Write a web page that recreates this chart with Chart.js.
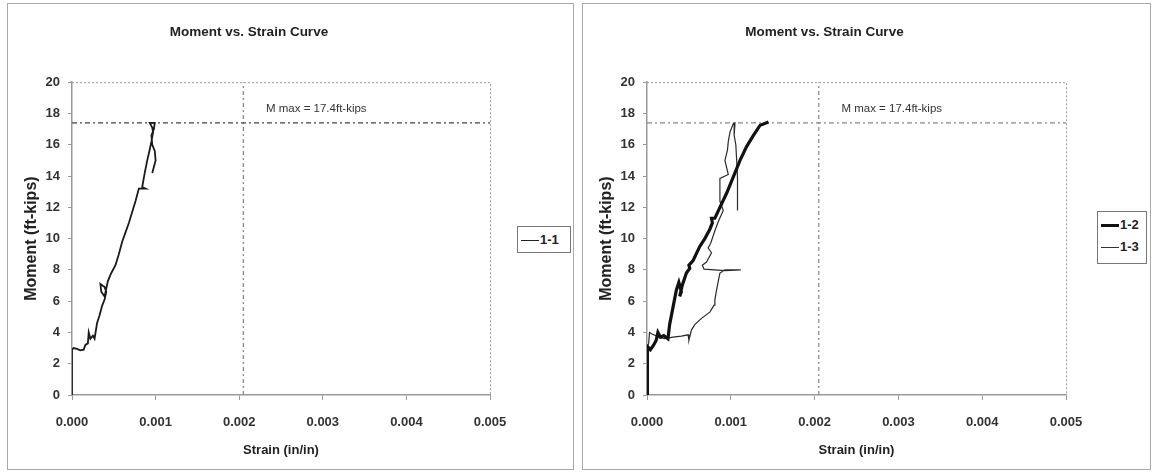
<!DOCTYPE html>
<html>
<head>
<meta charset="utf-8">
<script src="https://cdn.jsdelivr.net/npm/chart.js@4.4.1/dist/chart.umd.min.js"></script>
<style>
    body { margin: 0; background: #fff; width: 1152px; height: 475px; position: relative; overflow: hidden; }
    .panel { position: absolute; top: 3px; height: 467px; border: 1px solid #aaa; box-sizing: border-box; }
    .panel canvas { position: absolute; left: 0; top: 0; }
    .legend { position: absolute; border: 1px solid #777; background: #fff; box-sizing: border-box;
        font: bold 13px "Liberation Sans", Arial, sans-serif; color: #222; padding: 2px 3px; }
    .legend div { height: 22px; line-height: 22px; white-space: nowrap; }
    .legend span.ln { display: inline-block; width: 18px; vertical-align: middle; margin-right: 1px; }
</style>
</head>
<body>
<div class="panel" id="panelLeft" style="left:7px; width:567px;">
    <canvas id="chartLeft"></canvas>
    <div class="legend" style="left:509px; top:222px; width:54px; height:27px;">
        <div><span class="ln" style="border-top:1.5px solid #222;"></span>1-1</div>
    </div>
</div>
<div class="panel" id="panelRight" style="left:582px; width:569px;">
    <canvas id="chartRight"></canvas>
    <div class="legend" style="left:514px; top:207px; width:50px; height:53px;">
        <div><span class="ln" style="border-top:3.5px solid #111;"></span>1-2</div>
        <div><span class="ln" style="border-top:1.3px solid #333;"></span>1-3</div>
    </div>
</div>

<script>
// 座標軸刻度
const strainTicks = [0, 0.001, 0.002, 0.003, 0.004, 0.005];
const momentTicks = [0, 2, 4, 6, 8, 10, 12, 14, 16, 18, 20];

// 參考線：最大彎矩與對應應變
const mMax = 17.4;
const strainRef = 0.00205;
const mMaxLabel = 'M max = 17.4ft-kips';

// 試體 1-1
const strain11 = [0, 0, 0, 0.00002, 0.00006, 0.0001, 0.00014, 0.00016, 0.00019, 0.0002,
    0.00022, 0.00025, 0.00027, 0.0003, 0.00033, 0.00036, 0.00039, 0.00041, 0.00039, 0.00034,
    0.00035, 0.00039, 0.00041, 0.00043, 0.00047, 0.00052, 0.00056, 0.0006, 0.00064, 0.00068,
    0.00072, 0.00076, 0.0008, 0.00088, 0.00084, 0.00087, 0.0009, 0.00093, 0.00095, 0.00097,
    0.00096, 0.00093, 0.00099, 0.00098, 0.00095, 0.00096, 0.00099, 0.001, 0.00098, 0.00096];
const moment11 = [0, 1.5, 2.9, 3.0, 2.95, 2.85, 2.9, 3.2, 3.3, 4.0,
    3.6, 3.8, 3.6, 4.6, 5.1, 5.7, 6.1, 6.6, 6.9, 7.1,
    6.6, 6.3, 6.8, 7.3, 7.8, 8.3, 9.0, 9.8, 10.4, 11.0,
    11.7, 12.4, 13.2, 13.2, 13.3, 14.2, 15.0, 15.7, 16.2, 16.8,
    17.1, 17.4, 17.4, 17.0, 16.6, 16.0, 15.6, 15.0, 14.6, 14.2];

// 試體 1-2
const strain12 = [0, 0, 0.00001, 0.00004, 0.00008, 0.00011, 0.00013, 0.00016, 0.0002, 0.00025,
    0.00027, 0.00031, 0.00035, 0.00038, 0.00041, 0.00039, 0.00042, 0.00047, 0.00051, 0.0005,
    0.00055, 0.00063, 0.00069, 0.00075, 0.00078, 0.00077, 0.00081, 0.00087, 0.00095, 0.00103,
    0.00111, 0.00119, 0.00127, 0.00135, 0.00145];
const moment12 = [0, 2.9, 3.1, 2.9, 3.2, 3.5, 4.0, 3.7, 3.8, 3.6,
    4.5, 5.6, 6.7, 7.2, 6.6, 6.3, 7.0, 7.8, 8.1, 8.3,
    8.6, 9.5, 10.0, 10.6, 11.0, 11.3, 11.3, 12.0, 12.9, 13.95,
    15.0, 15.9, 16.6, 17.25, 17.45];

// 試體 1-3
const strain13 = [0, 0, 0.00002, 0.00003, 0.00006, 0.0001, 0.00014, 0.00021, 0.00031, 0.00041,
    0.00049, 0.0005, 0.00053, 0.00057, 0.00065, 0.00075, 0.0008, 0.00081, 0.00084, 0.00087,
    0.00093, 0.00112, 0.00093, 0.00068, 0.00066, 0.00071, 0.00077, 0.00073, 0.00076, 0.00081,
    0.00086, 0.00091, 0.00087, 0.00087, 0.00097, 0.00093, 0.00096, 0.00097, 0.00099, 0.00103,
    0.00105, 0.00104, 0.00106, 0.00107, 0.00108, 0.00108];
const moment13 = [0, 3.0, 3.3, 4.0, 3.9, 3.8, 3.7, 3.6, 3.7, 3.77,
    3.85, 3.5, 4.15, 4.5, 4.9, 5.3, 5.75, 6.1, 7.0, 7.8,
    8.0, 8.0, 7.95, 8.05, 8.3, 8.5, 9.1, 9.4, 9.7, 10.5,
    11.2, 11.8, 12.4, 13.85, 14.1, 15.0, 15.65, 16.2, 16.8, 17.35,
    17.4, 16.6, 16.0, 15.0, 13.9, 11.8];

const FONT = '"Liberation Sans", Arial, sans-serif';

function toPoints(xs, ys) {
    return xs.map((x, i) => ({ x: x, y: ys[i] }));
}

// 參考線資料集
function refLines(hColor) {
    const xMin = strainTicks[0], xMax = strainTicks[strainTicks.length - 1];
    const yMin = momentTicks[0], yMax = momentTicks[momentTicks.length - 1];
    return [
        {
            label: 'mmax', data: [{ x: xMin, y: mMax }, { x: xMax, y: mMax }],
            borderColor: hColor, borderWidth: 1.3, borderDash: [5, 3, 2, 3],
            pointRadius: 0, order: 10
        },
        {
            label: 'strainref', data: [{ x: strainRef, y: yMin }, { x: strainRef, y: yMax }],
            borderColor: '#8a8a8a', borderWidth: 1.3, borderDash: [4, 3, 2, 3],
            pointRadius: 0, order: 10
        }
    ];
}

// 繪圖區上、右虛線框與標註文字
const framePlugin = {
    id: 'frameAndLabel',
    beforeDatasetsDraw(chart) {
        const { ctx, chartArea: a } = chart;
        ctx.save();
        ctx.strokeStyle = '#9a9a9a';
        ctx.lineWidth = 1;
        ctx.setLineDash([2, 2]);
        ctx.beginPath();
        ctx.moveTo(a.left, a.top + 0.5);
        ctx.lineTo(a.right + 0.5, a.top + 0.5);
        ctx.lineTo(a.right + 0.5, a.bottom);
        ctx.stroke();
        ctx.restore();
    },
    afterDatasetsDraw(chart) {
        const { ctx, scales } = chart;
        ctx.save();
        ctx.font = '11.5px ' + FONT;
        ctx.fillStyle = '#333';
        ctx.textBaseline = 'middle';
        ctx.textAlign = 'left';
        ctx.fillText(mMaxLabel, scales.x.getPixelForValue(0.00232), scales.y.getPixelForValue(18.3));
        ctx.restore();
    }
};

function createChart(canvasId, seriesList, hColor, padRight, width) {
    const canvas = document.getElementById(canvasId);
    canvas.width = width;
    canvas.height = 466;
    canvas.style.width = width + 'px';
    canvas.style.height = '466px';

    const datasets = seriesList.map(s => ({
        label: s.label,
        data: toPoints(s.xs, s.ys),
        borderColor: s.color,
        borderWidth: s.width,
        pointRadius: 0,
        fill: false,
        tension: 0,
        order: 1
    })).concat(refLines(hColor));

    return new Chart(canvas.getContext('2d'), {
        type: 'line',
        data: { datasets: datasets },
        options: {
            responsive: false,
            animation: false,
            layout: { padding: { left: 0, right: padRight, top: 0, bottom: 0 } },
            plugins: {
                legend: { display: false },
                tooltip: { enabled: false },
                title: {
                    display: true,
                    text: 'Moment vs. Strain Curve',
                    color: '#222',
                    font: { family: FONT, size: 13.5, weight: 'bold' },
                    padding: { top: 20, bottom: 42 }
                }
            },
            scales: {
                x: {
                    type: 'linear',
                    min: strainTicks[0],
                    max: strainTicks[strainTicks.length - 1],
                    afterBuildTicks: (scale) => { scale.ticks = strainTicks.map(v => ({ value: v })); },
                    afterFit: (scale) => { scale.height = 75; },
                    ticks: {
                        color: '#333',
                        padding: 15,
                        maxRotation: 0,
                        font: { family: FONT, size: 13, weight: 'bold' },
                        callback: (v) => Number(v).toFixed(3)
                    },
                    grid: { drawOnChartArea: false, drawTicks: true, tickLength: 5, color: '#999' },
                    border: { color: '#999', width: 1.5 },
                    title: {
                        display: true, text: 'Strain (in/in)', color: '#222',
                        font: { family: FONT, size: 13, weight: 'bold' },
                        padding: { top: 0, bottom: 12 }
                    }
                },
                y: {
                    type: 'linear',
                    min: momentTicks[0],
                    max: momentTicks[momentTicks.length - 1],
                    afterBuildTicks: (scale) => { scale.ticks = momentTicks.map(v => ({ value: v })); },
                    afterFit: (scale) => { scale.width = 64; },
                    ticks: {
                        color: '#333',
                        padding: 8,
                        font: { family: FONT, size: 13, weight: 'bold' }
                    },
                    grid: { drawOnChartArea: false, drawTicks: true, tickLength: 4, color: '#999' },
                    border: { color: '#999', width: 1.5 },
                    title: {
                        display: true, text: 'Moment (ft-kips)', color: '#222',
                        font: { family: FONT, size: 16, weight: 'bold' },
                        padding: { top: 14, bottom: 0 }
                    }
                }
            }
        },
        plugins: [framePlugin]
    });
}

createChart('chartLeft', [
    { label: '1-1', xs: strain11, ys: moment11, color: '#1a1a1a', width: 1.8 }
], '#444', 83, 565);

createChart('chartRight', [
    { label: '1-2', xs: strain12, ys: moment12, color: '#111', width: 3.2 },
    { label: '1-3', xs: strain13, ys: moment13, color: '#2a2a2a', width: 1.2 }
], '#888', 84, 567);
</script>
</body>
</html>
